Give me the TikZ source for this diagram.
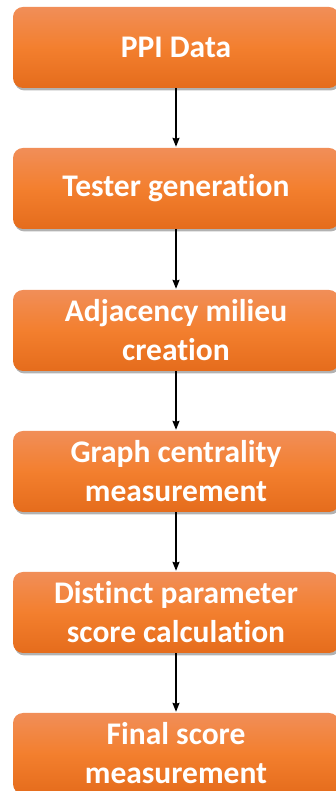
\documentclass[tikz,border=0pt]{standalone}
\usepackage{fontspec}
\setmainfont[Ligatures={NoCommon}]{Carlito}
\usetikzlibrary{shadows,arrows.meta}
\definecolor{boxtop}{RGB}{241,142,88}
\definecolor{boxmid}{RGB}{243,127,46}
\definecolor{boxbot}{RGB}{229,108,28}
\tikzset{
  stepbox/.style={rectangle, rounded corners=10pt, minimum width=326pt,
    minimum height=81pt, inner sep=0pt, align=center, text=white,
    font=\bfseries\fontsize{31.5}{39}\selectfont,
    top color=boxtop, bottom color=boxbot, middle color=boxmid,
    drop shadow={opacity=0.3, shadow xshift=1.5pt, shadow yshift=-2.5pt, fill=black}},
  flow/.style={-{Stealth[length=9pt,width=7pt,inset=1pt]}, line width=1.4pt, black}
}
\begin{document}
\begin{tikzpicture}[x=1pt,y=1pt]
  \useasboundingbox (0,0) rectangle (335,791);
  \node[stepbox] (s1) at (176,743.5) {PPI Data};
  \node[stepbox] (s2) at (176,602.5) {Tester generation};
  \node[stepbox] (s3) at (176,460.5) {Adjacency milieu\\creation};
  \node[stepbox] (s4) at (176,319.5) {Graph centrality\\measurement};
  \node[stepbox] (s5) at (176,178.5) {Distinct parameter\\score calculation};
  \node[stepbox] (s6) at (176,37.5) {Final score\\measurement};
  \foreach \a/\b in {s1/s2,s2/s3,s3/s4,s4/s5,s5/s6}
    \draw[flow] (\a.south) -- ([yshift=1pt]\b.north);
\end{tikzpicture}
\end{document}
